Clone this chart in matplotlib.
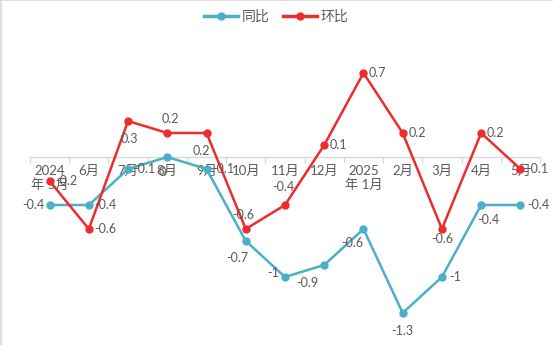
import numpy as np
import matplotlib.pyplot as plt
from matplotlib.lines import Line2D

plt.rcParams['font.family'] = ['Lato', 'Noto Sans CJK SC', 'DejaVu Sans']

months = ['2024\n年 5月', '6月', '7月', '8月', '9月', '10月', '11月', '12月',
          '2025\n年 1月', '2月', '3月', '4月', '5月']
yoy = [-0.4, -0.4, -0.1, 0, -0.1, -0.7, -1, -0.9, -0.6, -1.3, -1, -0.4, -0.4]
mom = [-0.2, -0.6, 0.3, 0.2, 0.2, -0.6, -0.4, 0.1, 0.7, 0.2, -0.6, 0.2, -0.1]

blue = '#4BAFC9'
red = '#EC2D2F'
grey = '#595959'

# label offsets in points (dx, dy, ha)
yoy_off = [(-4, 0, 'right'), (4, 0, 'left'), (4, 0, 'left'), (-4, -11, 'center'),
           (4, 0, 'left'), (-6, -12, 'center'), (-4, 3, 'right'), (-12, -13, 'center'),
           (-8, -10, 'center'), (0, -13, 'center'), (5, 0, 'left'), (5, -11, 'center'),
           (5, 0, 'left')]
mom_off = [(4, 0, 'left'), (4, 0, 'left'), (1, -13, 'center'), (2, 10, 'center'),
           (-4, -13, 'center'), (-2, 10, 'center'), (-1, 13, 'center'), (4, 0, 'left'),
           (4, 0, 'left'), (4, 0, 'left'), (0, -7, 'center'), (4, 0, 'left'),
           (4, 0, 'left')]

fig = plt.figure(figsize=(5.53, 3.45), dpi=100)
ax = fig.add_axes([30/553, 15/345, 510/553, 290/345])

x = np.arange(len(months))
ax.plot(x, yoy, color=blue, lw=1.8, marker='o', ms=5, zorder=3)
ax.plot(x, mom, color=red, lw=1.8, marker='o', ms=5, zorder=4)

for i in range(len(x)):
    dx, dy, ha = yoy_off[i]
    ax.annotate('%g' % yoy[i], (x[i], yoy[i]), xytext=(dx, dy), textcoords='offset points',
                ha=ha, va='center', fontsize=9, color=grey, zorder=5)
    dx, dy, ha = mom_off[i]
    ax.annotate('%g' % mom[i], (x[i], mom[i]), xytext=(dx, dy), textcoords='offset points',
                ha=ha, va='center', fontsize=9, color=grey, zorder=5)

ax.set_xlim(-0.5, len(months) - 0.5)
# zero line sits at y=157 px, 120 px per unit
ax.set_ylim((157 - 330) / 120, (157 - 40) / 120)

for s in ['left', 'right', 'top']:
    ax.spines[s].set_visible(False)
ax.spines['bottom'].set_position(('data', 0))
ax.spines['bottom'].set_color('#D9D9D9')
ax.spines['bottom'].set_linewidth(1)
ax.set_yticks([])

ax.set_xticks(np.arange(-0.5, len(months)), labels=[])
ax.set_xticks(x, labels=months, minor=True)
ax.tick_params(axis='x', which='major', length=4, color='#D9D9D9', width=1)
ax.tick_params(axis='x', which='minor', length=0, pad=6, labelsize=9.5, labelcolor=grey)
for t in ax.get_xticklabels(minor=True):
    t.set_linespacing(1.05)
    t.set_verticalalignment('top')

handles = [Line2D([], [], color=blue, lw=2.5, marker='o', ms=5),
           Line2D([], [], color=red, lw=2.5, marker='o', ms=5)]
fig.legend(handles, ['同比', '环比'], loc='center', bbox_to_anchor=(0.5, 1 - 16/345),
           ncol=2, frameon=False, fontsize=10, labelcolor=grey, handlelength=2.4,
           handletextpad=0.3, columnspacing=1.0)

# light frame along the top and left edges
fig.add_artist(Line2D([0, 1], [0.999, 0.999], color='#D9D9D9', lw=1.2, transform=fig.transFigure))
fig.add_artist(Line2D([0.001, 0.001], [0, 1], color='#D9D9D9', lw=1.2, transform=fig.transFigure))

plt.savefig('out.png', dpi=100)
